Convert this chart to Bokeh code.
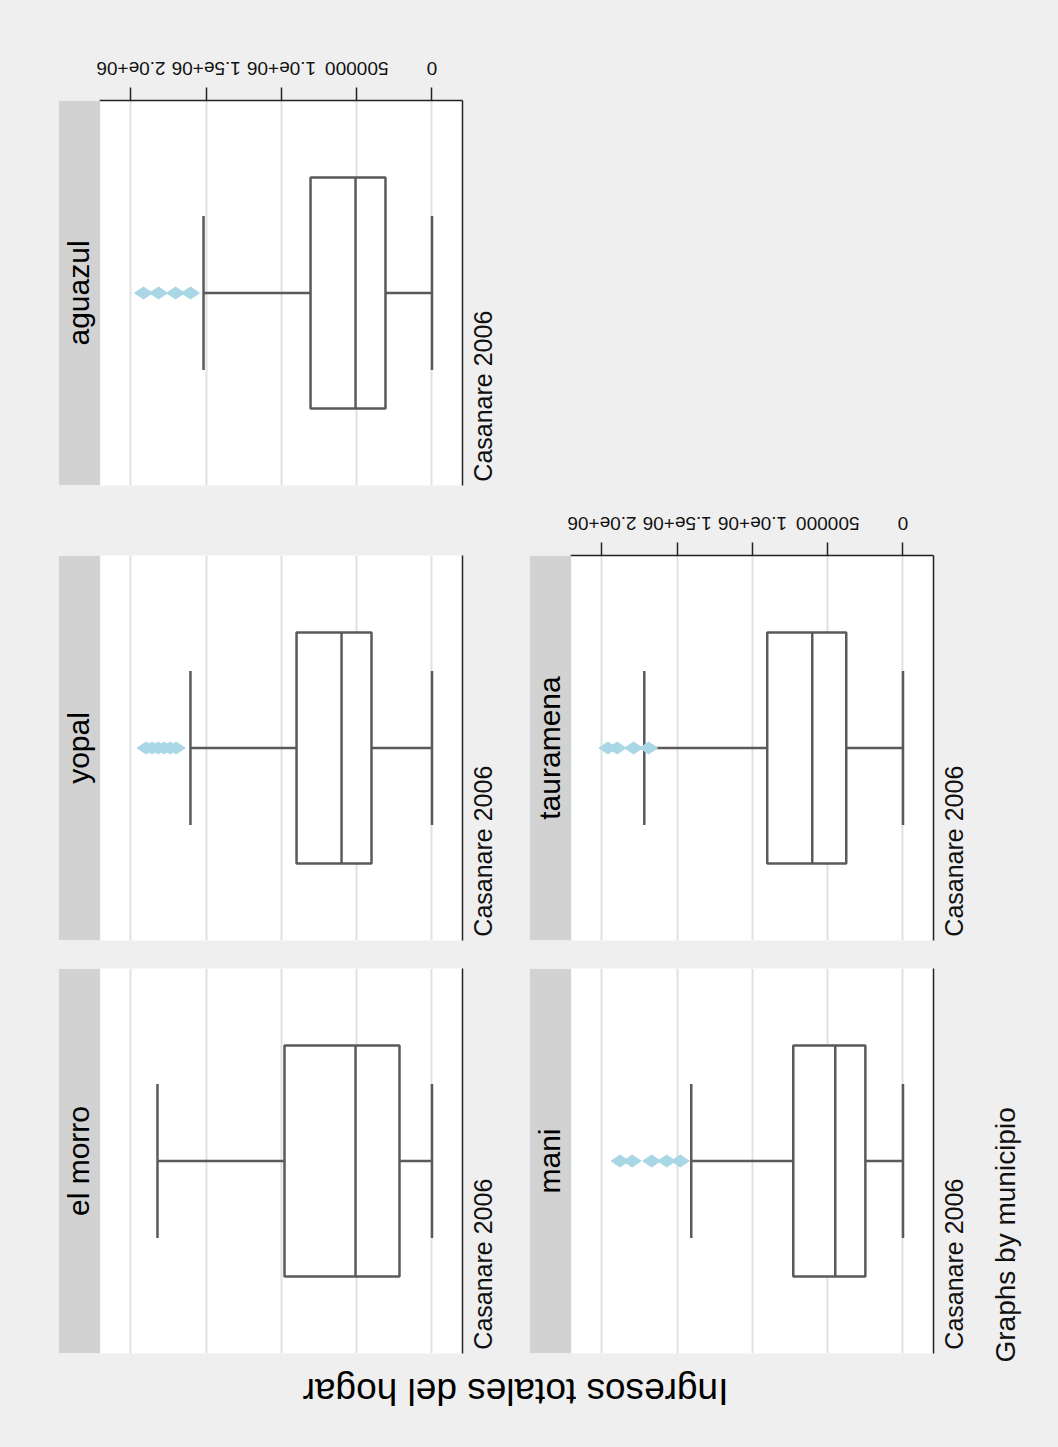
import math
from bokeh.plotting import figure
from bokeh.layouts import column, row
from bokeh.models import Range1d, FixedTicker, BoxAnnotation, Label, ColumnDataSource
from bokeh.core.properties import value
from bokeh.embed import file_html
from bokeh.resources import INLINE

# ---------------- data ----------------
municipios = ["aguazul", "yopal", "el morro", "tauramena", "mani"]
category = "Casanare 2006"
q1 = [309000, 402000, 216000, 377000, 250000]
median = [508000, 601000, 508000, 603000, 450000]
q3 = [807000, 900000, 980000, 902000, 729000]
whisker_low = [0, 0, 0, 0, 0]
whisker_high = [1518000, 1605000, 1824000, 1719000, 1407000]
outliers = [
    [1605000, 1704000, 1817000, 1917000],
    [1700000, 1740000, 1780000, 1820000, 1860000, 1900000],
    [],
    [1690000, 1790000, 1900000, 1960000],
    [1480000, 1570000, 1670000, 1800000, 1880000],
]
TICKS = [0, 500000, 1000000, 1500000, 2000000]
TICK_LABELS = ["0", "500000", "1.0e+06", "1.5e+06", "2.0e+06"]
axis_title = "Ingresos totales del hogar"
note = "Graphs by municipio"

# ---------------- style ----------------
FONT = "Liberation Sans"
BG = "#efefef"
BOX = "#5a5a5a"
OUT = "#a9d7e6"
X_START, X_END = 2.4817e6, -0.2027e6   # reversed value axis (0 on the right)
STRIP_EDGE = 2.206e6
CAT_POS = 0.01
FRAME_W = 404
RIGHT = 55


def tick_label_fig(width, height, left):
    """Strip above a panel that carries the value-axis tick labels (upside down)."""
    f = figure(width=width, height=height, x_range=Range1d(X_START, X_END),
               y_range=Range1d(0, height), x_axis_location=None, y_axis_location=None,
               min_border_left=left, min_border_right=RIGHT, min_border_top=0,
               min_border_bottom=0, output_backend="svg", toolbar_location=None)
    f.background_fill_color = BG
    f.border_fill_color = BG
    f.outline_line_color = None
    f.grid.visible = False
    f.text(x=TICKS, y=11.7, text=TICK_LABELS, angle=math.pi,
           text_align="center", text_baseline="middle",
           text_font=value(FONT), text_font_size="19px", text_color="#111111")
    return f


def panel(i, width, height, top, bottom, left, with_axis):
    p = figure(width=width, height=height,
               x_range=Range1d(X_START, X_END), y_range=Range1d(0, 1),
               x_axis_location="above" if with_axis else None,
               y_axis_location="right",
               output_backend="svg", toolbar_location=None,
               min_border_top=top, min_border_bottom=bottom,
               min_border_left=left, min_border_right=RIGHT)
    p.background_fill_color = "white"
    p.border_fill_color = BG
    p.outline_line_color = None
    p.xgrid.ticker = FixedTicker(ticks=TICKS)
    p.xgrid.grid_line_color = "#e1e1e1"
    p.xgrid.grid_line_width = 2
    p.ygrid.visible = False

    # right axis: plain line + category label
    ya = p.yaxis[0]
    ya.ticker = FixedTicker(ticks=[CAT_POS])
    ya.major_label_overrides = {CAT_POS: category}
    ya.major_label_orientation = math.pi / 2
    ya.major_label_text_font = FONT
    ya.major_label_text_font_size = "25px"
    ya.major_label_text_color = "#111111"
    ya.major_label_standoff = 21
    ya.axis_line_color = "#222222"
    ya.axis_line_width = 1.5
    ya.major_tick_line_color = None
    ya.major_tick_out = 0
    ya.major_tick_in = 0
    ya.minor_tick_line_color = None

    if with_axis:
        xa = p.xaxis[0]
        xa.ticker = FixedTicker(ticks=TICKS)
        xa.major_label_text_font_size = "1px"
        xa.major_label_text_color = None
        xa.major_label_standoff = 0
        xa.bounds = (X_END, STRIP_EDGE)
        xa.axis_line_color = "#222222"
        xa.axis_line_width = 1.5
        xa.major_tick_line_color = "#222222"
        xa.major_tick_line_width = 1.5
        xa.major_tick_out = 13
        xa.major_tick_in = 0
        xa.minor_tick_line_color = None

    # title strip
    p.add_layout(BoxAnnotation(left=X_START, right=STRIP_EDGE, fill_color="#d2d2d2",
                               fill_alpha=1, line_color="#d8e6ee", line_width=1.5))
    p.add_layout(Label(x=2.350e6, y=0.5, text=municipios[i], angle=math.pi / 2,
                       text_align="center", text_baseline="middle",
                       text_font=FONT, text_font_size="30px", text_color="#000000"))

    src = ColumnDataSource(dict(y=[0.5], q1=[q1[i]], q3=[q3[i]], med=[median[i]],
                                lo=[whisker_low[i]], hi=[whisker_high[i]]))
    p.segment(x0="lo", y0="y", x1="q1", y1="y", line_color=BOX, line_width=2.5, source=src)
    p.segment(x0="q3", y0="y", x1="hi", y1="y", line_color=BOX, line_width=2.5, source=src)
    p.segment(x0="lo", y0=0.3, x1="lo", y1=0.7, line_color=BOX, line_width=2.5, source=src)
    p.segment(x0="hi", y0=0.3, x1="hi", y1=0.7, line_color=BOX, line_width=2.5, source=src)
    p.hbar(y="y", left="q1", right="q3", height=0.6, fill_color="white",
           line_color=BOX, line_width=2.5, source=src)
    p.segment(x0="med", y0=0.2, x1="med", y1=0.8, line_color=BOX, line_width=2.5, source=src)
    if outliers[i]:
        p.scatter(x=outliers[i], y=[0.5] * len(outliers[i]), marker="diamond", size=18,
                  angle=math.pi / 2, fill_color=OUT, line_color=OUT)
    return p


def blank(width, height):
    f = figure(width=width, height=height, x_range=Range1d(0, width), y_range=Range1d(0, height),
               x_axis_location=None, y_axis_location=None, min_border=0,
               output_backend="svg", toolbar_location=None)
    f.background_fill_color = BG
    f.border_fill_color = BG
    f.outline_line_color = None
    f.grid.visible = False
    return f


L1 = 58                       # left border of column 1
W1 = L1 + FRAME_W + RIGHT     # 517
L2 = 529 - W1                 # 12
W2 = L2 + FRAME_W + RIGHT     # 471

lab_ag = tick_label_fig(W1, 80, L1)
p_ag = panel(0, W1, 475, 20, 70, L1, True)
p_yo = panel(1, W1, 413, 0, 28, L1, False)
p_em = panel(2, W1, 397, 0, 12, L1, False)

lab_ta = tick_label_fig(W2, 535, L2)
p_ta = panel(3, W2, 433, 20, 28, L2, True)
p_ma = panel(4, W2, 397, 0, 12, L2, False)

note_fig = blank(1058 - W1 - W2, 1365)
note_fig.add_layout(Label(x=1005 - W1 - W2, y=3, text=note, angle=math.pi / 2,
                          text_align="left", text_baseline="middle",
                          text_font=FONT, text_font_size="28px", text_color="#111111"))

bottom = blank(1058, 82)
bottom.add_layout(Label(x=515, y=56, text=axis_title, angle=math.pi,
                        text_align="center", text_baseline="middle",
                        text_font=FONT, text_font_size="37px", text_color="#000000"))

st = {"background-color": BG}
layout = column(row(column(lab_ag, p_ag, p_yo, p_em, styles=st),
                    column(lab_ta, p_ta, p_ma, styles=st), note_fig, styles=st),
                bottom, styles=st)

open("out.html", "w").write(file_html(layout, INLINE))
